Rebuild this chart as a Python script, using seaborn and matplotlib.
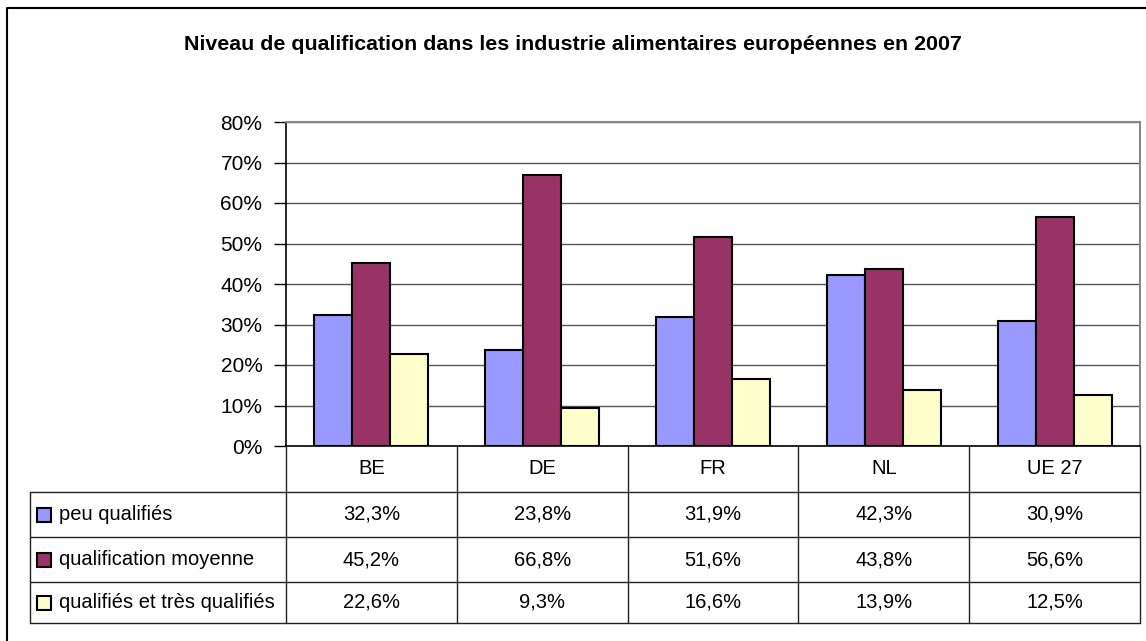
import numpy as np
import pandas as pd
import matplotlib
matplotlib.use('Agg')
import matplotlib.pyplot as plt
import matplotlib.transforms as mtransforms
from matplotlib.lines import Line2D
from matplotlib.patches import Rectangle
import seaborn as sns

# --- data ---
pays = ['BE', 'DE', 'FR', 'NL', 'UE 27']
niveaux = ['peu qualifiés', 'qualification moyenne', 'qualifiés et très qualifiés']
peu_qualifies = [32.3, 23.8, 31.9, 42.3, 30.9]
qualif_moyenne = [45.2, 66.8, 51.6, 43.8, 56.6]
tres_qualifies = [22.6, 9.3, 16.6, 13.9, 12.5]
couleurs = ['#9999FF', '#993366', '#FFFFCC']
y_ticks = [0, 10, 20, 30, 40, 50, 60, 70, 80]
titre = 'Niveau de qualification dans les industrie alimentaires européennes en 2007'

series = [peu_qualifies, qualif_moyenne, tres_qualifies]
df = pd.DataFrame({
    'pays': pays * len(niveaux),
    'niveau': np.repeat(niveaux, len(pays)),
    'valeur': np.concatenate(series),
})

sns.set_style('white')
plt.rcParams['font.family'] = ['Liberation Sans Narrow', 'Liberation Sans', 'DejaVu Sans']
plt.rcParams['text.color'] = 'black'
plt.rcParams['ytick.labelcolor'] = 'black'

W, H = 1146, 641
fig = plt.figure(figsize=(W / 100, H / 100), dpi=100)

# plot area in pixels
left, right, top, bottom = 286, 1140, 122, 446
ax = fig.add_axes([left / W, 1 - bottom / H, (right - left) / W, (bottom - top) / H])

sns.barplot(data=df, x='pays', y='valeur', hue='niveau', palette=couleurs,
            width=0.667, saturation=1, edgecolor='black', linewidth=1.5,
            ax=ax, legend=False)

ax.set_xlim(-0.5, len(pays) - 0.5)
ax.set_ylim(0, 80)
ax.set_yticks(y_ticks)
ax.set_yticklabels([f'{t}%' for t in y_ticks])
ax.set_xticks([])
ax.set_xlabel('')
ax.set_ylabel('')
ax.yaxis.grid(True, color='#555555', linewidth=1)
ax.set_axisbelow(True)
ax.tick_params(axis='y', direction='out', length=9, width=1, color='black',
               labelsize=15, pad=8, left=True)
for side in ['left', 'bottom']:
    ax.spines[side].set_color('black')
    ax.spines[side].set_linewidth(1.2)
for side in ['top', 'right']:
    ax.spines[side].set_color('#888888')
    ax.spines[side].set_linewidth(1.5)

# title
fig.text(573 / W, 1 - 44 / H, titre, ha='center', va='center', fontsize=15.4, fontweight='bold')

# --- data table under the chart ---
trans = mtransforms.blended_transform_factory(ax.transData, fig.transFigure)
line_kw = dict(color='#222222', linewidth=1)
row_edges = [bottom, 492, 537, 582, 623]
table_left = 30
fs = 14.5

def fy(y):
    return 1 - y / H

# horizontal lines
for y in row_edges[1:]:
    fig.add_artist(Line2D([table_left / W, right / W], [fy(y), fy(y)], **line_kw))
# vertical lines
fig.add_artist(Line2D([table_left / W, table_left / W], [fy(row_edges[1]), fy(row_edges[-1])], **line_kw))
for i in range(len(pays) + 1):
    x = i - 0.5
    fig.add_artist(Line2D([x, x], [fy(bottom), fy(row_edges[-1])], transform=trans, **line_kw))

# header labels
for i, p in enumerate(pays):
    fig.text(i, fy((row_edges[0] + row_edges[1]) / 2), p, transform=trans,
             ha='center', va='center', fontsize=fs)

# legend rows with values
for r, (nom, vals, c) in enumerate(zip(niveaux, series, couleurs)):
    yc = (row_edges[r + 1] + row_edges[r + 2]) / 2
    fig.add_artist(Rectangle((37 / W, fy(yc + 7)), 14 / W, 14 / H, facecolor=c,
                             edgecolor='black', linewidth=1.5, transform=fig.transFigure))
    fig.text(59 / W, fy(yc), nom, ha='left', va='center', fontsize=fs)
    for i, v in enumerate(vals):
        fig.text(i, fy(yc), f'{v:.1f}%'.replace('.', ','), transform=trans,
                 ha='center', va='center', fontsize=fs)

# chart border
fig.add_artist(Line2D([7 / W, 7 / W, 1], [0, fy(8), fy(8)], color='black', linewidth=1.5))

fig.savefig('out.png', dpi=100)
